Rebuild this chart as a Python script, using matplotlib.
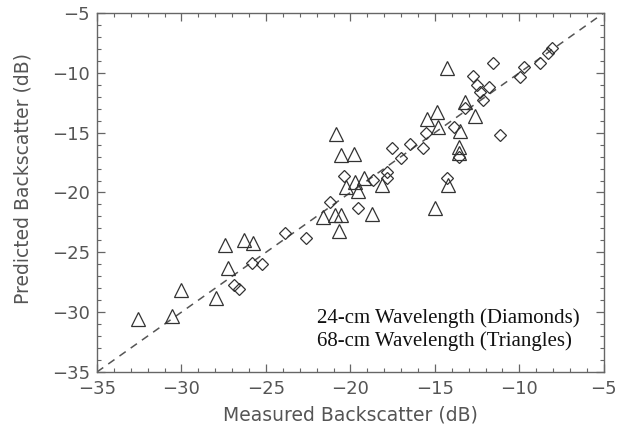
import matplotlib
matplotlib.use("Agg")
import matplotlib.pyplot as plt
from matplotlib.ticker import MultipleLocator

# 24-cm wavelength (diamonds): measured, predicted backscatter in dB
diamond_measured = [-26.9, -26.6, -25.85, -25.25, -23.85, -22.6, -21.2, -20.35,
                    -19.55, -18.65, -17.85, -17.85, -17.0, -17.55, -16.5, -15.7,
                    -15.5, -13.85, -13.2, -13.55, -14.3, -11.15, -12.75, -12.5,
                    -12.3, -12.15, -11.8, -11.55, -9.95, -9.7, -8.8, -8.3, -8.05]
diamond_predicted = [-27.7, -28.1, -25.9, -26.0, -23.4, -23.8, -20.8, -18.6,
                     -21.3, -18.95, -18.25, -18.8, -17.1, -16.3, -15.95, -16.3,
                     -15.0, -14.55, -12.95, -17.05, -18.75, -15.2, -10.3, -11.0,
                     -11.6, -12.3, -11.2, -9.15, -10.35, -9.5, -9.15, -8.35, -7.95]

# 68-cm wavelength (triangles)
triangle_measured = [-32.6, -30.55, -30.0, -27.95, -27.25, -27.45, -26.3, -25.75,
                     -21.6, -20.9, -20.55, -20.7, -18.7, -20.85, -20.55, -19.8,
                     -20.25, -19.7, -19.55, -19.2, -18.15, -14.2, -15.0, -13.55,
                     -13.55, -13.5, -14.8, -15.45, -14.9, -13.2, -12.6, -14.3]
triangle_predicted = [-30.6, -30.35, -28.15, -28.8, -26.35, -24.4, -24.0, -24.25,
                      -22.05, -21.9, -21.9, -23.25, -21.8, -15.15, -16.85, -16.8,
                      -19.55, -19.1, -19.85, -18.8, -19.4, -19.4, -21.3, -16.2,
                      -16.7, -14.9, -14.5, -13.9, -13.25, -12.4, -13.65, -9.6]

axis_range = [-35, -5]
tick_color = "#555555"

fig = plt.figure(figsize=(6.18, 4.33), dpi=100)
ax = fig.add_axes([0.157, 0.141, 0.820, 0.829])

ax.plot(axis_range, axis_range, linestyle=(0, (5, 4)), color="#555555", lw=1.1)
ax.plot(diamond_measured, diamond_predicted, linestyle="none", marker="D",
        ms=6.2, mfc="none", mec="#333333", mew=0.9)
ax.plot(triangle_measured, triangle_predicted, linestyle="none", marker="^",
        ms=9.5, mfc="none", mec="#333333", mew=0.9)

ax.set_xlim(axis_range)
ax.set_ylim(axis_range)
ax.xaxis.set_major_locator(MultipleLocator(5))
ax.yaxis.set_major_locator(MultipleLocator(5))
ax.xaxis.set_minor_locator(MultipleLocator(1))
ax.yaxis.set_minor_locator(MultipleLocator(1))
ax.tick_params(which="both", direction="in", top=True, right=True,
               color="#666666", labelcolor=tick_color, labelsize=13)
ax.tick_params(which="major", length=6, width=0.9)
ax.tick_params(which="minor", length=3, width=0.8)
ax.tick_params(axis="x", pad=6)
ax.tick_params(axis="y", pad=5)
for s in ax.spines.values():
    s.set_color("#666666")
    s.set_linewidth(1.0)

ax.set_xlabel("Measured Backscatter (dB)", color=tick_color, fontsize=13.5, labelpad=5)
ax.set_ylabel("Predicted Backscatter (dB)", color=tick_color, fontsize=13.5,
              labelpad=14, y=0.54)

ax.text(-22.0, -29.7, "24-cm Wavelength (Diamonds)\n68-cm Wavelength (Triangles)",
        family="Liberation Serif", fontsize=15, color="#111111",
        va="top", ha="left", linespacing=1.22)

fig.savefig("out.png", dpi=100)
